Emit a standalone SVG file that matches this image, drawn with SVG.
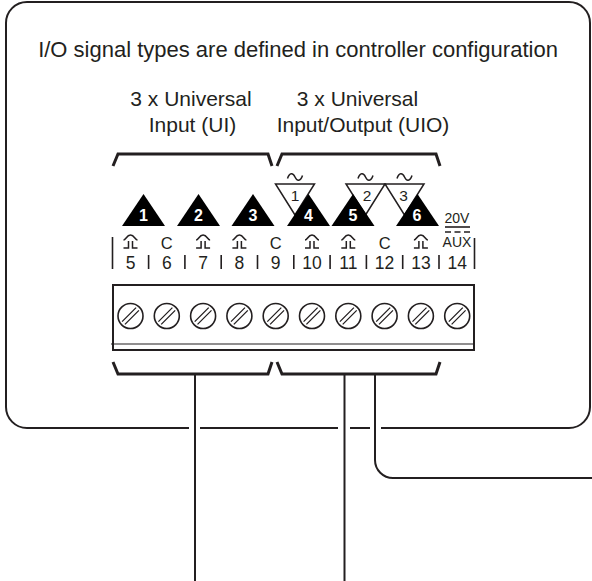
<svg xmlns="http://www.w3.org/2000/svg" xmlns:xlink="http://www.w3.org/1999/xlink" width="592" height="581" viewBox="0 0 592 581">
<style>
text{font-family:"Liberation Sans",Arial,sans-serif;fill:#231f20}
.ln{fill:none;stroke:#231f20;stroke-width:2}
.br{fill:none;stroke:#231f20;stroke-width:3;stroke-linejoin:miter}
.sep{stroke:#231f20;stroke-width:1.6}
.up{fill:#000}
.dn{fill:#fff;stroke:#231f20;stroke-width:1.5}
.wn{fill:#fff;font-weight:bold;font-size:16px;text-anchor:middle}
.bn{font-size:15.5px;text-anchor:middle}
.num{font-size:17.5px;text-anchor:middle}
.c{font-size:16.5px;text-anchor:middle}
.hd{font-size:21px;text-anchor:middle}
.sym{fill:none;stroke:#231f20;stroke-width:1.5}
</style>
<defs>
<g id="screw"><circle r="12.5" fill="#fff" stroke="#231f20" stroke-width="1.6"/><path d="M-8.4 5.6L5.6-8.4M-5.6 8.4L8.4-5.6" stroke="#231f20" stroke-width="1.3" fill="none"/></g>
<path id="pulse" class="sym" d="M-7-2C-4.5-2-4-7 0-7C4-7 4.5-2 7-2M-2-1V6H-7M2-1V6H7"/>
<path id="wave" class="sym" d="M-7.5 1.5C-5.5-4.5-2-4.5 0 0C2 4.5 5.5 4.5 7.5-1.5"/>
</defs>

<g id="enclosure">
<path class="ln" d="M189 428H27A21 21 0 0 1 6 407V23A21 21 0 0 1 27 2H569A21 21 0 0 1 590 23V407A21 21 0 0 1 569 428H381M370 428H350M338 428H200"/>
</g>

<g id="title">
<text x="298" y="57" font-size="22" text-anchor="middle">I/O signal types are defined in controller configuration</text>
</g>

<g id="group-ui">
<text class="hd" x="191" y="106">3 x Universal</text>
<text class="hd" x="192.5" y="132">Input (UI)</text>
<path class="br" d="M113 166L118 154H268L272 166"/>
</g>

<g id="group-uio">
<text class="hd" x="357.5" y="106">3 x Universal</text>
<text class="hd" x="363" y="132">Input/Output (UIO)</text>
<path class="br" d="M277 166L282 154H436L440 166"/>
</g>

<g id="outputs">
<polygon class="dn" points="275.5,184 314.5,184 295,215"/>
<polygon class="dn" points="346,184 385,184 365.5,215"/>
<polygon class="dn" points="385,184 424,184 404.5,215"/>
<use xlink:href="#wave" href="#wave" x="295" y="177"/>
<use xlink:href="#wave" href="#wave" x="365.5" y="177"/>
<use xlink:href="#wave" href="#wave" x="404.5" y="177"/>
<text class="bn" x="295" y="201">1</text>
<text class="bn" x="367" y="201">2</text>
<text class="bn" x="403.5" y="201">3</text>
</g>

<g id="inputs">
<polygon class="up" points="122,226 143.5,194 165,226"/>
<polygon class="up" points="177,226 198.5,194 220,226"/>
<polygon class="up" points="231.5,226 253,194 274.5,226"/>
<polygon class="up" points="287,226 308.5,194 330,226"/>
<polygon class="up" points="331.5,226 353,194 374.5,226"/>
<polygon class="up" points="396,226 417.5,194 439,226"/>
<text class="wn" x="143.5" y="221">1</text>
<text class="wn" x="198.5" y="221">2</text>
<text class="wn" x="253" y="221">3</text>
<text class="wn" x="308.5" y="221">4</text>
<text class="wn" x="353" y="221">5</text>
<text class="wn" x="417" y="221">6</text>
</g>

<g id="terminal-labels">
<use xlink:href="#pulse" href="#pulse" x="130.5" y="242"/>
<text class="c" x="166.8" y="249">C</text>
<use xlink:href="#pulse" href="#pulse" x="203.1" y="242"/>
<use xlink:href="#pulse" href="#pulse" x="239.4" y="242"/>
<text class="c" x="275.7" y="249">C</text>
<use xlink:href="#pulse" href="#pulse" x="312" y="242"/>
<use xlink:href="#pulse" href="#pulse" x="348.3" y="242"/>
<text class="c" x="384.6" y="249">C</text>
<use xlink:href="#pulse" href="#pulse" x="420.9" y="242"/>
<text x="457" y="223" font-size="14" text-anchor="middle">20V</text>
<line class="sep" x1="445" y1="227" x2="470" y2="227" stroke-width="1.2"/>
<line class="sep" x1="445" y1="232" x2="470" y2="232" stroke-width="1.2" stroke-dasharray="6 3.5"/>
<text x="457" y="247" font-size="14" text-anchor="middle">AUX</text>
<text class="num" x="130.5" y="268.5">5</text>
<text class="num" x="166.8" y="268.5">6</text>
<text class="num" x="203.1" y="268.5">7</text>
<text class="num" x="239.4" y="268.5">8</text>
<text class="num" x="275.7" y="268.5">9</text>
<text class="num" x="312" y="268.5">10</text>
<text class="num" x="348.3" y="268.5">11</text>
<text class="num" x="384.6" y="268.5">12</text>
<text class="num" x="420.9" y="268.5">13</text>
<text class="num" x="457.2" y="268.5">14</text>
<path class="sep" d="M112.5 237V269M148.6 255V269M184.9 255V269M221.2 255V269M257.5 255V269M293.8 255V269M330.1 255V269M366.4 255V269M402.7 255V269M439 255V269M474.5 238V269"/>
</g>

<g id="terminal-block">
<rect x="113" y="285" width="361" height="65" fill="#fff" stroke="#231f20" stroke-width="2"/>
<line x1="111" y1="344" x2="474" y2="344" stroke="#231f20" stroke-width="1.2"/>
<use xlink:href="#screw" href="#screw" x="130.5" y="316"/>
<use xlink:href="#screw" href="#screw" x="166.8" y="316"/>
<use xlink:href="#screw" href="#screw" x="203.1" y="316"/>
<use xlink:href="#screw" href="#screw" x="239.4" y="316"/>
<use xlink:href="#screw" href="#screw" x="275.7" y="316"/>
<use xlink:href="#screw" href="#screw" x="312" y="316"/>
<use xlink:href="#screw" href="#screw" x="348.3" y="316"/>
<use xlink:href="#screw" href="#screw" x="384.6" y="316"/>
<use xlink:href="#screw" href="#screw" x="420.9" y="316"/>
<use xlink:href="#screw" href="#screw" x="457.2" y="316"/>
</g>

<g id="connectors">
<path class="br" d="M113 362L118 374H268L272 362"/>
<path class="br" d="M277 362L282 374H436L440 362"/>
<path class="ln" d="M195 374V581"/>
<path class="ln" d="M344.5 374V581"/>
<path class="ln" d="M375 374V460A18 18 0 0 0 393 478H592"/>
</g>
</svg>
